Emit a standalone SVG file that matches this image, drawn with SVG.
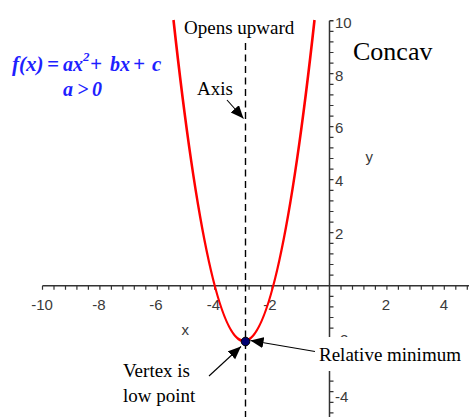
<svg xmlns="http://www.w3.org/2000/svg" width="469" height="417" viewBox="0 0 469 417">
<style>
.ax{stroke:#333;stroke-width:1.5;fill:none}
.tk{stroke:#333;stroke-width:1.2;fill:none}
.num{font-family:"Liberation Sans",Arial,sans-serif;font-size:15px;fill:#3a3a3a}
.lbl{font-family:"Liberation Serif","Times New Roman",serif;font-size:19px;fill:#000}
.fx{font-family:"Liberation Serif","Times New Roman",serif;font-size:21px;font-weight:bold;font-style:italic;fill:#1f1fff}
.arr{stroke:#000;stroke-width:1.1;fill:none;marker-end:url(#ah)}
</style>
<defs>
<marker id="ah" markerUnits="userSpaceOnUse" markerWidth="14" markerHeight="12" refX="13" refY="5.5" orient="auto">
<path d="M0,0 L13,5.5 L0,11 z" fill="#000"/>
</marker>
<clipPath id="m2clip"><rect x="330" y="320" width="40" height="17"/></clipPath>
</defs>
<rect width="469" height="417" fill="#fff"/>
<g id="axes">
<path class="ax" d="M42.5 285.7 H469 M329.5 20.7 V417 M329.5 20.7 h4"/>
<path class="tk" d="M42.5 285.7v4M54 285.7v4M65.5 285.7v4M76.9 285.7v4M88.4 285.7v4M99.9 285.7v4M111.4 285.7v4M122.9 285.7v4M134.3 285.7v4M145.8 285.7v4M157.3 285.7v4M168.8 285.7v4M180.3 285.7v4M191.7 285.7v4M203.2 285.7v4M214.7 285.7v4M226.2 285.7v4M237.7 285.7v4M249.1 285.7v4M260.6 285.7v4M272.1 285.7v4M283.6 285.7v4M295.1 285.7v4M306.5 285.7v4M318 285.7v4M341 285.7v4M352.5 285.7v4M363.9 285.7v4M375.4 285.7v4M386.9 285.7v4M398.4 285.7v4M409.9 285.7v4M421.3 285.7v4M432.8 285.7v4M444.3 285.7v4M455.8 285.7v4M467.3 285.7v4"/>
<path class="tk" d="M329.5 31.3h4M329.5 41.9h4M329.5 52.5h4M329.5 63.1h4M329.5 73.7h4M329.5 84.3h4M329.5 94.9h4M329.5 105.5h4M329.5 116.1h4M329.5 126.7h4M329.5 137.3h4M329.5 147.9h4M329.5 158.5h4M329.5 169.1h4M329.5 179.7h4M329.5 190.3h4M329.5 200.9h4M329.5 211.5h4M329.5 222.1h4M329.5 232.7h4M329.5 243.3h4M329.5 253.9h4M329.5 264.5h4M329.5 275.1h4M329.5 296.3h4M329.5 306.9h4M329.5 317.5h4M329.5 328.1h4M329.5 338.7h4M329.5 349.3h4M329.5 359.9h4M329.5 370.5h4M329.5 381.1h4M329.5 391.7h4M329.5 402.3h4M329.5 412.9h4"/>
<g class="num" text-anchor="middle">
<text x="42" y="309.5">-10</text>
<text x="99" y="309.5">-8</text>
<text x="156" y="309.5">-6</text>
<text x="213.5" y="309.5">-4</text>
<text x="270" y="309.5">-2</text>
<text x="386" y="309.5">2</text>
<text x="444" y="309.5">4</text>
</g>
<g class="num">
<text x="335" y="27.5">10</text>
<text x="335" y="80.5">8</text>
<text x="335" y="133">6</text>
<text x="335" y="185.5">4</text>
<text x="335" y="238.5">2</text>
<text x="335" y="345" clip-path="url(#m2clip)">-2</text>
<text x="335" y="402">-4</text>
<text x="181.5" y="335">x</text>
<text x="365.5" y="162">y</text>
</g>
</g>
<g id="curve">
<path d="M173.5 20 Q244 662 314.5 20" fill="none" stroke="#ff0000" stroke-width="2.6"/>
</g>
<g id="axis-line">
<line x1="245.5" y1="43" x2="245.5" y2="417" stroke="#000" stroke-width="1.4" stroke-dasharray="7 4.5"/>
</g>
<g id="vertex">
<circle cx="245.5" cy="341.5" r="4.3" fill="#000070" stroke="#000" stroke-width="1"/>
</g>
<g id="relative-minimum">
<rect x="317" y="337" width="150" height="34" fill="#fff"/>
<text class="lbl" x="319" y="361">Relative minimum</text>
</g>
<g id="connectors">
<line class="arr" x1="227" y1="100" x2="243.5" y2="118.5"/>
<line class="arr" x1="209" y1="376" x2="241" y2="346.5"/>
<line class="arr" x1="315" y1="351.5" x2="250.5" y2="340.5"/>
</g>
<g id="opens-upward">
<text class="lbl" x="184" y="34">Opens upward</text>
</g>
<g id="concave">
<text class="lbl" x="353" y="60" style="font-size:26px">Concav</text>
</g>
<g id="axis-label">
<text class="lbl" x="197" y="95">Axis</text>
</g>
<g id="vertex-label">
<text class="lbl" x="123" y="376.5">Vertex is</text>
<text class="lbl" x="123" y="401.5">low point</text>
</g>
<g id="formula">
<text class="fx" y="71"><tspan x="12">f(x)</tspan><tspan x="47">=</tspan><tspan x="63" style="font-size:20px">ax</tspan><tspan x="83" y="61" style="font-size:13px">2</tspan><tspan x="90" y="71">+</tspan><tspan x="110" style="font-size:20px">bx</tspan><tspan x="133">+</tspan><tspan x="152">c</tspan></text>
<text class="fx" y="96" style="font-size:20px"><tspan x="63">a</tspan><tspan x="77">&gt;</tspan><tspan x="92">0</tspan></text>
</g>
</svg>
